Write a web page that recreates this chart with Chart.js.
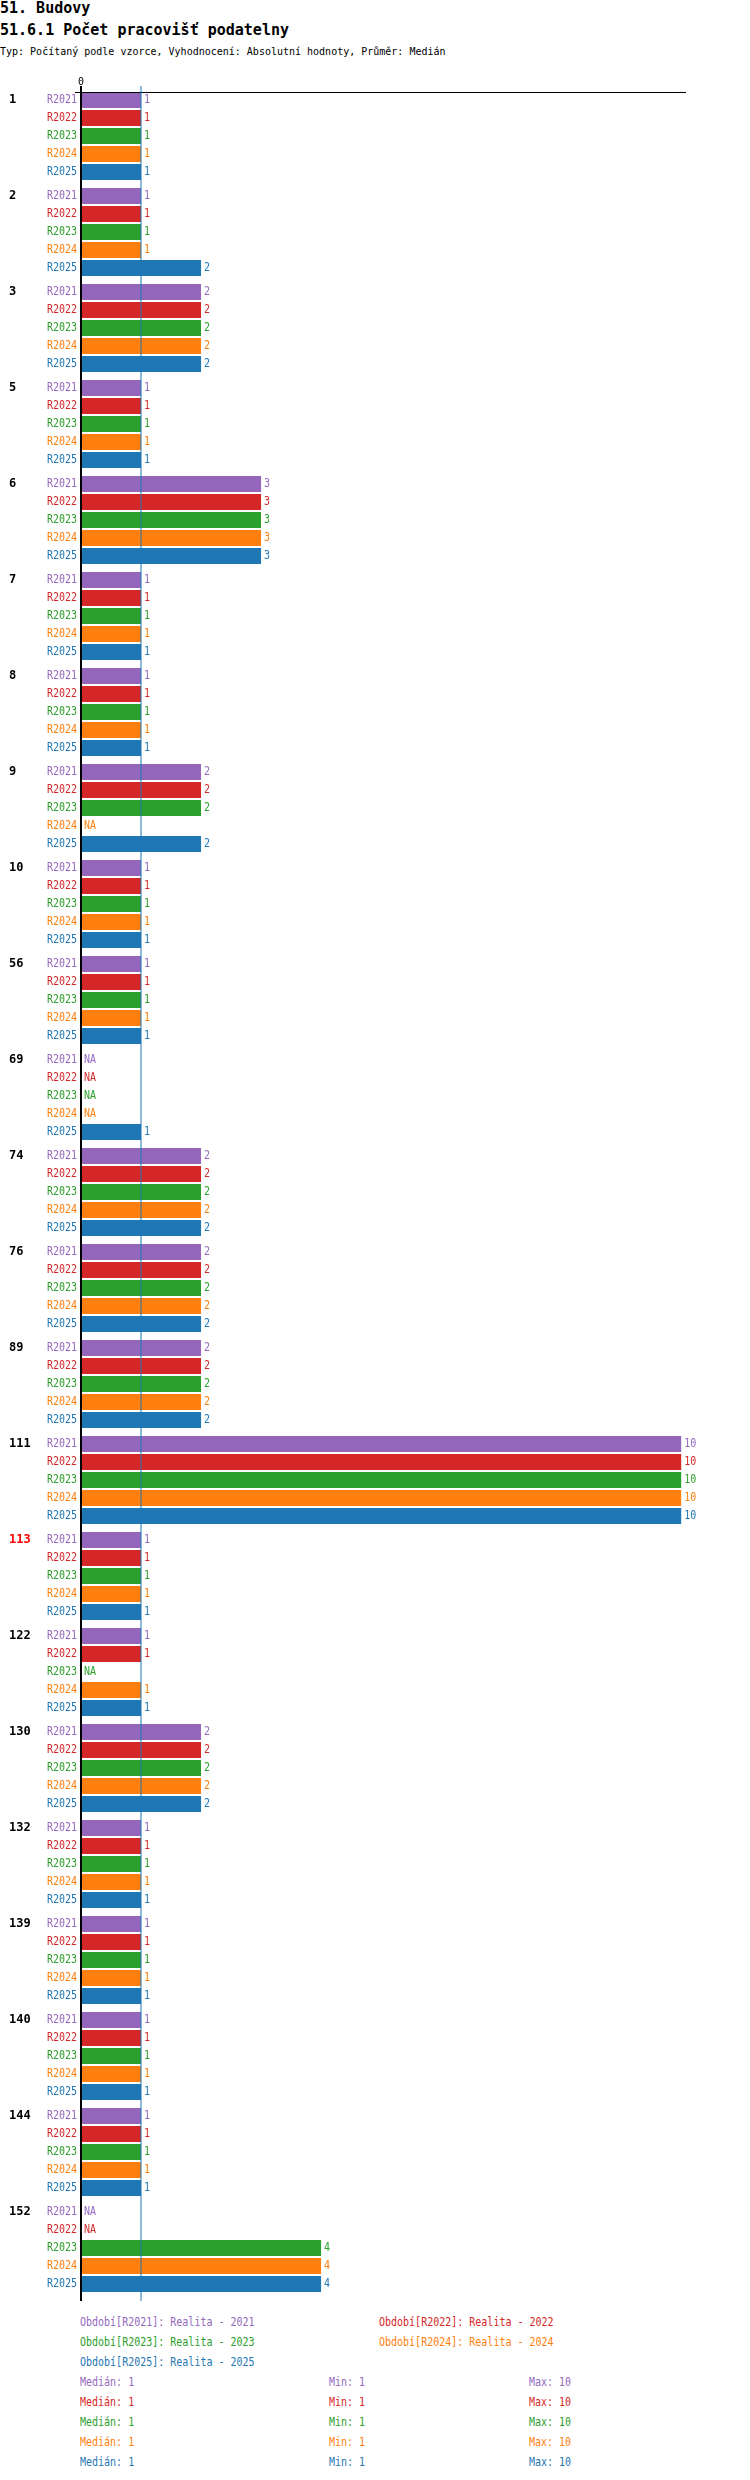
<!DOCTYPE html>
<html lang="cs">
<head>
<meta charset="UTF-8">
<title>51.6.1 Počet pracovišť podatelny</title>
<script src="https://cdn.jsdelivr.net/npm/chart.js@4.4.1/dist/chart.umd.min.js"></script>
<style>
  body { margin: 0; background: #fff; font-family: 'DejaVu Sans Mono', monospace; }
  .t { position: absolute; left: 0; white-space: pre; line-height: 1; }
  .h { font-size: 15px; font-weight: bold; }
  .s { font-size: 10px; }
  #chartBox { position: absolute; left: 0; top: 0; width: 750px; height: 2310px; }
  .leg { position: absolute; font-size: 12.5px; white-space: pre; line-height: 1;
         transform: scaleX(0.8); transform-origin: 0 50%; }
</style>
</head>
<body>

<div class="t h" style="top:1px">51. Budovy</div>
<div class="t h" style="top:23px">51.6.1 Počet pracovišť podatelny</div>
<div class="t s" style="top:47px">Typ: Počítaný podle vzorce, Vyhodnocení: Absolutní hodnoty, Průměr: Medián</div>

<div id="chartBox"><canvas id="graf" width="750" height="2310"></canvas></div>
<div id="legenda"></div>

<script>
// skupiny (budovy) a hodnoty po obdobích, null = NA
const groups = ['1', '2', '3', '5', '6', '7', '8', '9', '10', '56', '69', '74', '76', '89',
                '111', '113', '122', '130', '132', '139', '140', '144', '152'];
const periods = ['R2021', 'R2022', 'R2023', 'R2024', 'R2025'];
const periodNames = ['Realita - 2021', 'Realita - 2022', 'Realita - 2023', 'Realita - 2024', 'Realita - 2025'];
const r2021 = [1, 1, 2, 1, 3, 1, 1, 2, 1, 1, null, 2, 2, 2, 10, 1, 1, 2, 1, 1, 1, 1, null];
const r2022 = [1, 1, 2, 1, 3, 1, 1, 2, 1, 1, null, 2, 2, 2, 10, 1, 1, 2, 1, 1, 1, 1, null];
const r2023 = [1, 1, 2, 1, 3, 1, 1, 2, 1, 1, null, 2, 2, 2, 10, 1, null, 2, 1, 1, 1, 1, 4];
const r2024 = [1, 1, 2, 1, 3, 1, 1, null, 1, 1, null, 2, 2, 2, 10, 1, 1, 2, 1, 1, 1, 1, 4];
const r2025 = [1, 2, 2, 1, 3, 1, 1, 2, 1, 1, 1, 2, 2, 2, 10, 1, 1, 2, 1, 1, 1, 1, 4];
const highlighted = ['113'];   // zvýrazněná skupina (červeně)
const medianValue = 1;         // svislá čára mediánu

const colors = ['#9467bd', '#d62728', '#2ca02c', '#ff7f0e', '#1f77b4'];
const series = [r2021, r2022, r2023, r2024, r2025];
const FONT = "'DejaVu Sans Mono', monospace";

function median(arr) {
    const v = arr.filter(x => x !== null).sort((a, b) => a - b);
    const m = Math.floor(v.length / 2);
    return v.length % 2 ? v[m] : (v[m - 1] + v[m]) / 2;
}

// zúžený text (písmo v grafu je užší než běžné)
function narrowText(c, text, x, y) {
    c.save();
    c.translate(x, y);
    c.scale(0.8, 1);
    c.fillText(text, 0, 0);
    c.restore();
}

// popisky, čáry os a hodnoty kreslené nad sloupci
const decor = {
    id: 'decor',
    afterDatasetsDraw(chart) {
        const c = chart.ctx;
        const xs = chart.scales.x;
        const x0 = xs.getPixelForValue(0);
        const xm = Math.round(xs.getPixelForValue(medianValue)) - 0.5;
        c.save();
        // osa 0
        c.fillStyle = '#000';
        c.fillRect(x0 - 1, 86, 2, 2301 - 86);
        c.fillRect(75, 92, chart.chartArea.right - 75, 1);
        // median
        c.fillStyle = '#1f77b4';
        c.fillRect(xm, 86, 1, 2301 - 86);
        c.textBaseline = 'middle';
        c.font = '10px ' + FONT;
        c.fillStyle = '#000';
        c.textAlign = 'center';
        c.fillText('0', x0, 82);

        chart.data.datasets.forEach((ds, di) => {
            const meta = chart.getDatasetMeta(di);
            meta.data.forEach((el, i) => {
                const y = el.y;
                c.fillStyle = colors[di];
                c.font = '12.5px ' + FONT;
                c.textAlign = 'right';
                narrowText(c, periods[di], x0 - 4, y);
                c.textAlign = 'left';
                const v = ds.data[i];
                if (v === null) narrowText(c, 'NA', x0 + 3, y);
                else narrowText(c, String(v), el.x + 3, y);
                if (di === 0) {
                    c.font = 'bold 12px ' + FONT;
                    c.fillStyle = highlighted.includes(groups[i]) ? '#ff0000' : '#000';
                    c.fillText(groups[i], 9, y);
                }
            });
        });
        c.restore();
    }
};

new Chart(document.getElementById('graf'), {
    type: 'bar',
    data: {
        labels: groups,
        datasets: periods.map((p, i) => ({
            label: p,
            data: series[i],
            backgroundColor: colors[i],
            borderWidth: 0,
            barPercentage: 16 / 18,
            categoryPercentage: 90 / 96
        }))
    },
    options: {
        indexAxis: 'y',
        responsive: false,
        animation: false,
        devicePixelRatio: 1,
        layout: { padding: { left: 81, right: 64, top: 88, bottom: 14 } },
        plugins: { legend: { display: false }, tooltip: { enabled: false } },
        scales: {
            x: { type: 'linear', min: 0, max: 10.08, display: false },
            y: { display: false }
        }
    },
    plugins: [decor]
});

// legenda pod grafem
const leg = document.getElementById('legenda');
function put(text, x, yc, color) {
    const d = document.createElement('div');
    d.className = 'leg';
    d.style.left = x + 'px';
    d.style.top = (yc - 6) + 'px';
    d.style.color = color;
    d.textContent = text;
    leg.appendChild(d);
}
periods.forEach((p, i) => {
    const col = i % 2, row = Math.floor(i / 2);
    put('Období[' + p + ']: ' + periodNames[i], col ? 379 : 80, 2322 + row * 20, colors[i]);
});
series.forEach((s, i) => {
    const vals = s.filter(v => v !== null);
    const y = 2382 + i * 20;
    put('Medián: ' + median(s), 80, y, colors[i]);
    put('Min: ' + Math.min(...vals), 329, y, colors[i]);
    put('Max: ' + Math.max(...vals), 529, y, colors[i]);
});
</script>
</body>
</html>
